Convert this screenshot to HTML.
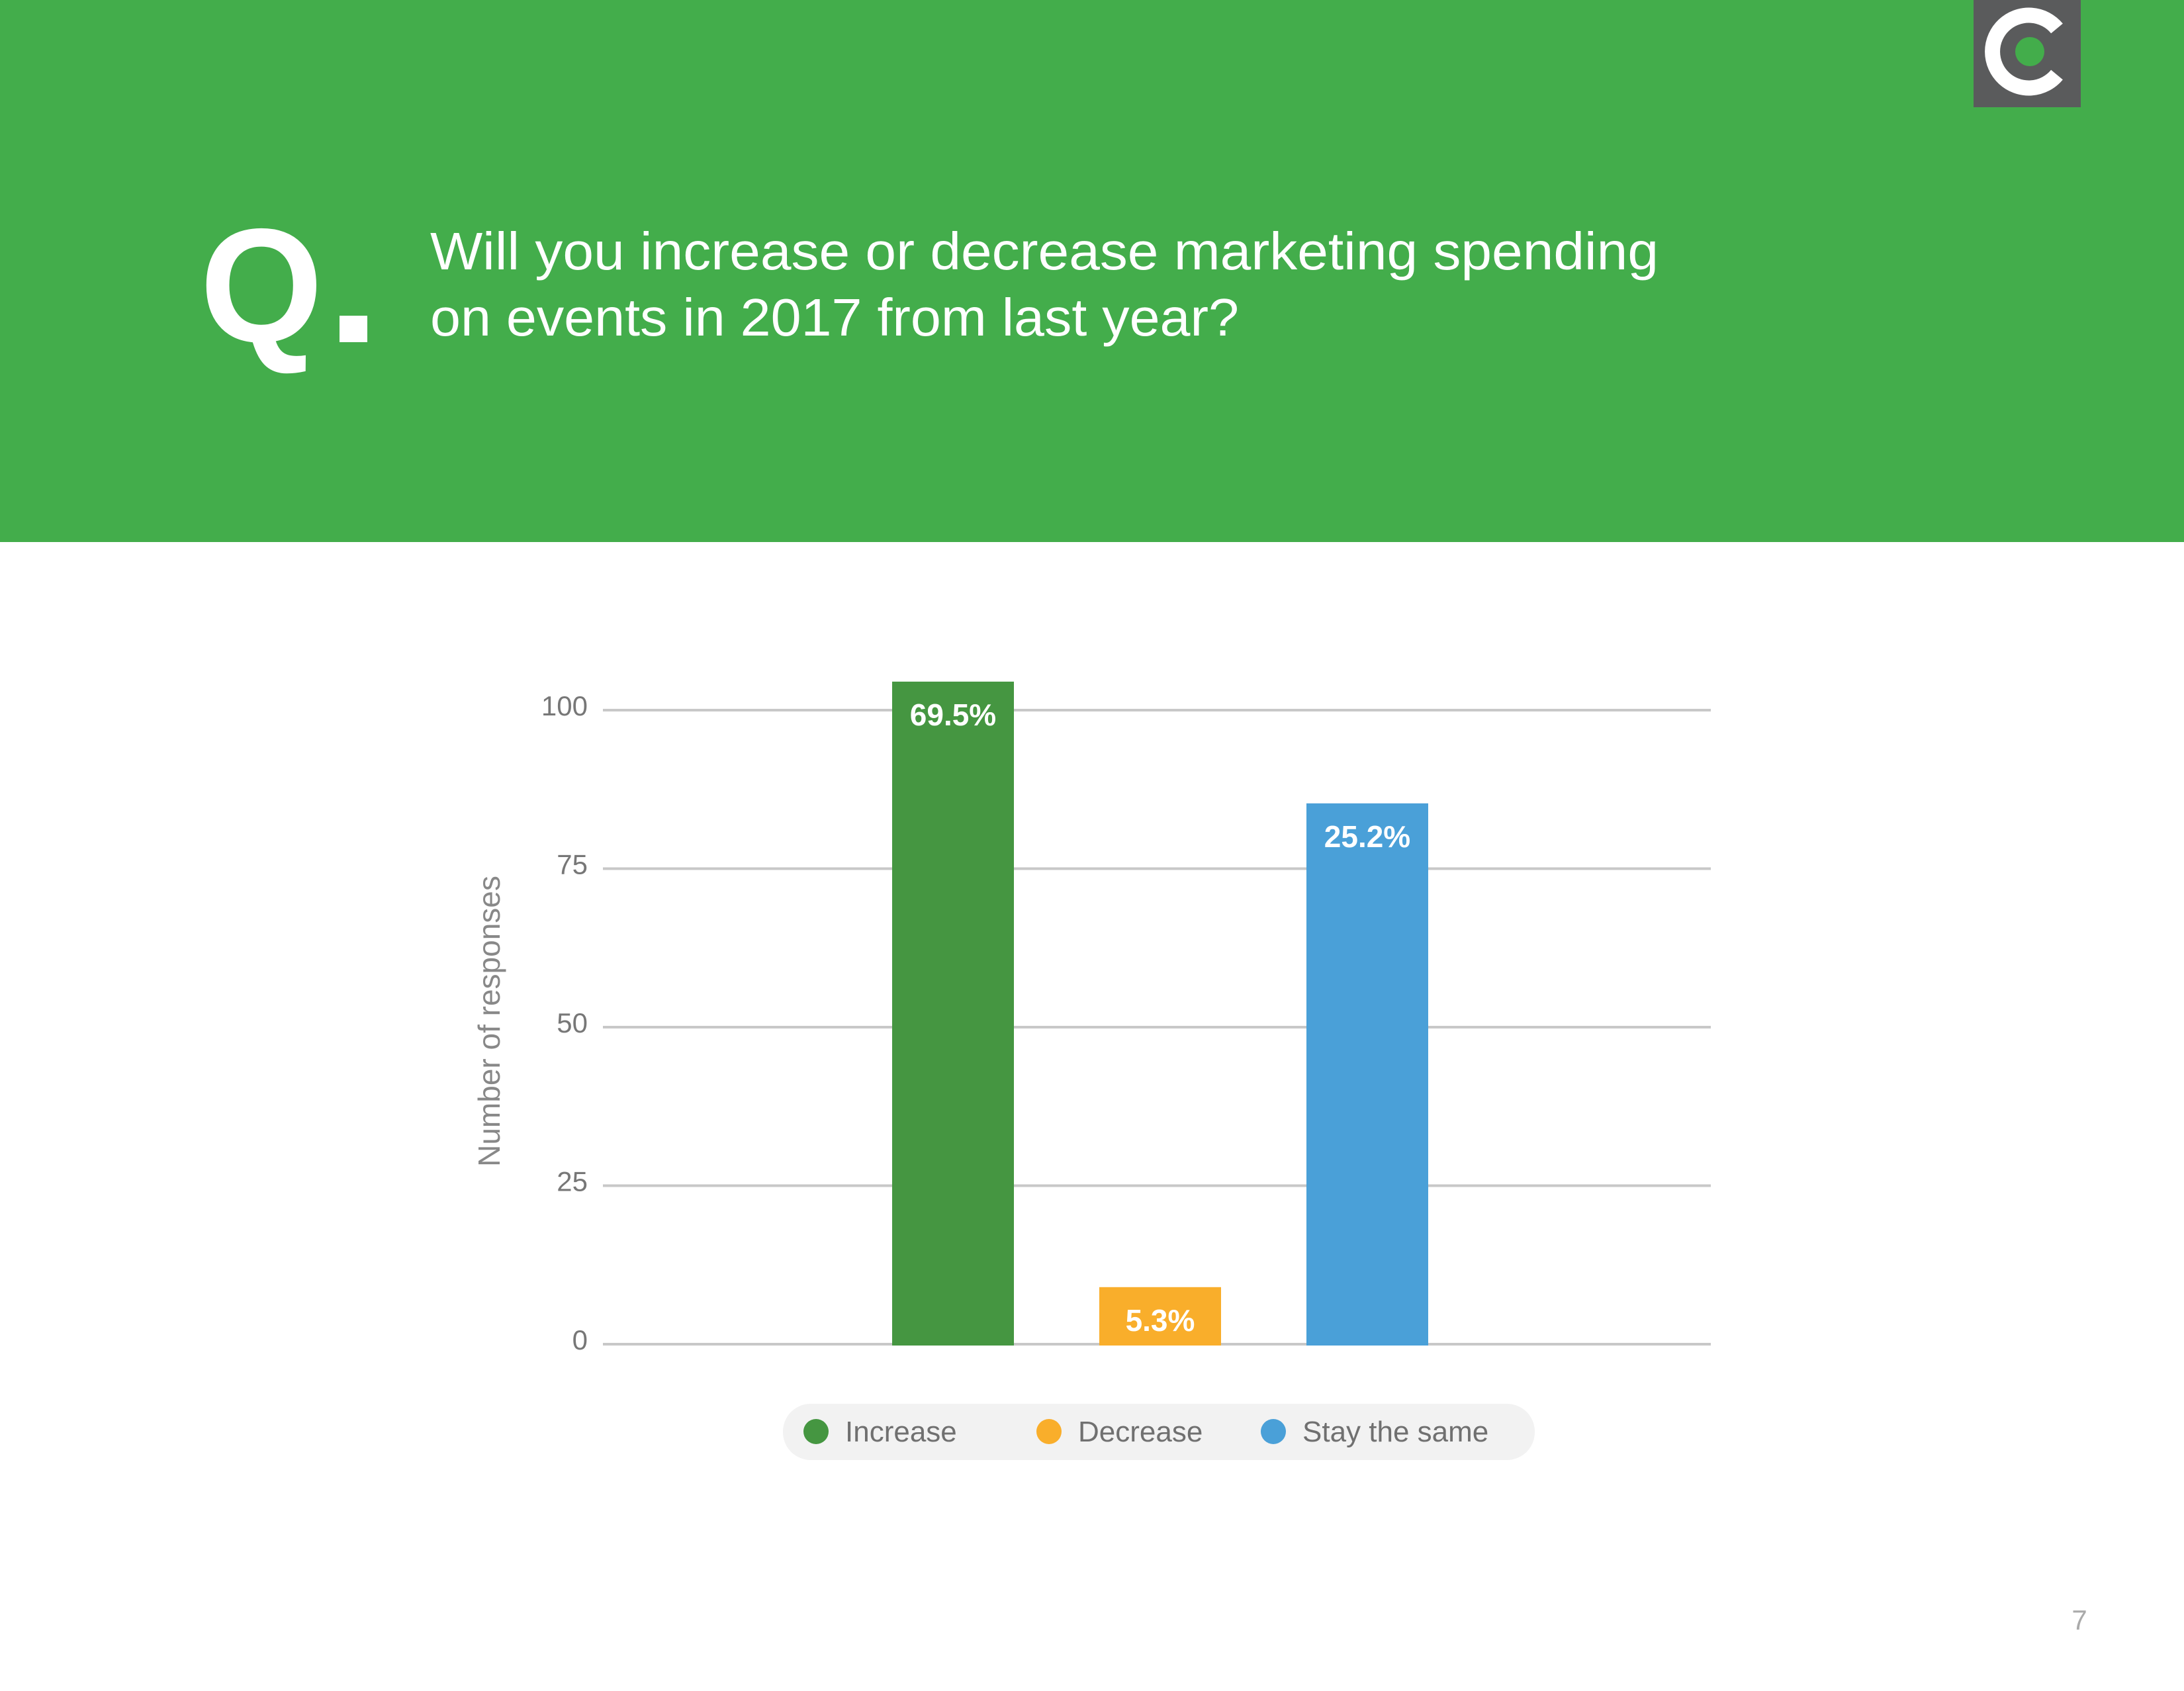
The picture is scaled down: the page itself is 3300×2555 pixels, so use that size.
<!DOCTYPE html>
<html><head><meta charset="utf-8"><style>
html,body{margin:0;padding:0;background:#fff}
body{width:3300px;height:2550px;position:relative;overflow:hidden;font-family:"Liberation Sans",sans-serif}
</style></head><body>
<svg width="3300" height="2550" viewBox="0 0 3300 2550" xmlns="http://www.w3.org/2000/svg" id="svg">
<rect x="0" y="0" width="3300" height="819" fill="#43ad4b"/>
<g>
<rect x="2982" y="0" width="162" height="162" fill="#5a5b5c"/>
<path d="M3108,43 A55,55 0 1 0 3108,113" fill="none" stroke="#fff" stroke-width="23"/>
<circle cx="3067" cy="78" r="22" fill="#43ad4b"/>
</g>
<g>
<text x="302" y="516" font-size="245" font-weight="bold" fill="#fff" textLength="186" lengthAdjust="spacingAndGlyphs" font-family="Liberation Sans, sans-serif">Q</text>
<rect x="513" y="477" width="42" height="40" fill="#fff"/>
</g>
<text x="650" y="407" font-size="80" fill="#fff" textLength="1856" lengthAdjust="spacingAndGlyphs">Will you increase or decrease marketing spending</text>
<text x="650" y="507" font-size="80" fill="#fff" textLength="1222" lengthAdjust="spacingAndGlyphs">on events in 2017 from last year?</text>
<g id="chart"></g>
<text x="3142" y="2462" font-size="42" fill="#aaa" text-anchor="middle">7</text>
</svg>
<script>
const categories = ["Increase", "Decrease", "Stay the same"];
const values = [104.5, 9, 85.3];
const labels = ["69.5%", "5.3%", "25.2%"];
const ticks = [0, 25, 50, 75, 100];
const colors = ["#459641", "#f9ae2b", "#4aa0d8"];

const NS = "http://www.w3.org/2000/svg";
const g = document.getElementById("chart");
const x0 = 911, x1 = 2585, yBase = 2031, pxPerUnit = 9.58;
const y = v => yBase - v * pxPerUnit;
const xc = i => 1440 + i * 313;
const barW = 184;
function mk(tag, attrs, parent) {
  const e = document.createElementNS(NS, tag);
  for (const k in attrs) e.setAttribute(k, attrs[k]);
  (parent || g).appendChild(e);
  return e;
}
ticks.forEach(t => {
  const l = mk("line", {x1: x0, x2: x1, y1: y(t), y2: y(t), stroke: "#c8c8c8", "stroke-width": 4});
  
  
  const tx = mk("text", {x: 888, y: y(t) + 8, "font-size": 42, fill: "#777", "text-anchor": "end"});
  tx.textContent = t;
  
  
});
const at = mk("text", {x: 0, y: 0, "font-size": 46, fill: "#888", "text-anchor": "middle", transform: "translate(755,1543) rotate(-90)"});
at.textContent = "Number of responses";


values.forEach((v, i) => {
  const r = mk("rect", {x: xc(i) - barW / 2, y: y(v), width: barW, height: yBase - y(v) + 2, fill: colors[i]});
  
  
  const t = mk("text", {x: xc(i), y: y(v) + 66, "font-size": 46, "font-weight": "bold", fill: "#fff", "text-anchor": "middle"});
  t.textContent = labels[i];
  
  
});
const lg = mk("g", {});


mk("rect", {x: 1183, y: 2121, width: 1136, height: 85, rx: 42, fill: "#f2f2f2"}, lg);
const lcx = [1233, 1585, 1924];
categories.forEach((c, i) => {
  const ci = mk("circle", {cx: lcx[i], cy: 2163, r: 19, fill: colors[i]}, lg);
  
  
  const t = mk("text", {x: lcx[i] + 44, y: 2178, "font-size": 44, fill: "#707070"}, lg);
  t.textContent = c;
  
  
});
</script>
</body></html>
